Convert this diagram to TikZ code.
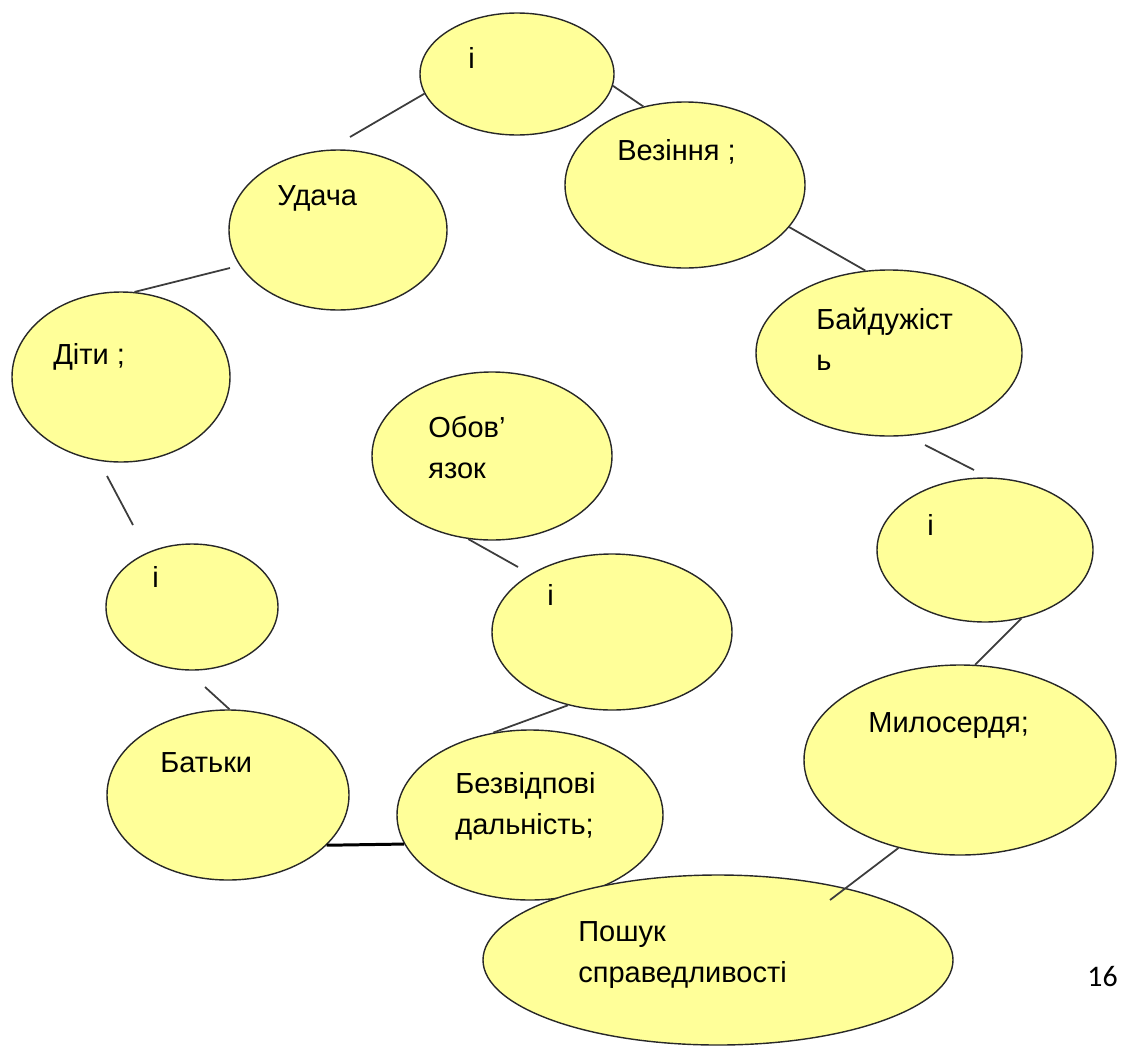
\documentclass[tikz,border=0pt]{standalone}
\usepackage{fontspec}
\setmainfont{Liberation Sans}
\newfontfamily\pagefont{Carlito}
\usepackage{tikz}
\usetikzlibrary{shapes.geometric}
\definecolor{bubblefill}{RGB}{255,255,153}
\definecolor{bubbleline}{RGB}{40,40,40}
\definecolor{linkgray}{RGB}{60,60,60}
\tikzstyle{bubble} = [ellipse,draw=bubbleline,fill=bubblefill,line width=0.8pt,inner sep=0pt]
\tikzstyle{word} = [anchor=base west,inner sep=0pt,align=left,font=\fontsize{16.5}{23}\selectfont]
\tikzstyle{link} = [draw=linkgray,line width=1pt]

\begin{document}
\begin{tikzpicture}[x=0.02cm,y=-0.02cm]
	\def \px {0.02cm}
	\useasboundingbox (0,0) rectangle (1125,1055);
	% bubbles
	\node (top) at (517,74) [bubble,minimum width=194*\px,minimum height=122*\px] {};
	\node (vez) at (685,185) [bubble,minimum width=240*\px,minimum height=166*\px] {};
	\node (uda) at (338,230) [bubble,minimum width=218*\px,minimum height=160*\px] {};
	\node (dit) at (121,377) [bubble,minimum width=218*\px,minimum height=170*\px] {};
	\node (bay) at (889,353) [bubble,minimum width=266*\px,minimum height=166*\px] {};
	\node (obo) at (492,456) [bubble,minimum width=240*\px,minimum height=168*\px] {};
	\node (iR) at (985,550) [bubble,minimum width=216*\px,minimum height=144*\px] {};
	\node (iL) at (192,607) [bubble,minimum width=172*\px,minimum height=126*\px] {};
	\node (iM) at (612,632) [bubble,minimum width=240*\px,minimum height=156*\px] {};
	\node (bat) at (228,795) [bubble,minimum width=242*\px,minimum height=170*\px] {};
	\node (bez) at (530,815) [bubble,minimum width=266*\px,minimum height=170*\px] {};
	\node (mil) at (960,760) [bubble,minimum width=312*\px,minimum height=190*\px] {};
	\node (pos) at (718,960) [bubble,minimum width=470*\px,minimum height=170*\px] {};
	% texts (multi-line ones sit on their last line)
	\node (t-top) at (468,68) [word] {і};
	\node (t-vez) at (617,160) [word] {Везіння ;};
	\node (t-uda) at (277,205) [word] {Удача};
	\node (t-dit) at (53,364) [word] {Діти ;};
	\node (t-bay) at (816,370) [word] {Байдужіст\\ь};
	\node (t-obo) at (428,478) [word] {Обов’\\язок};
	\node (t-iR) at (927,535) [word] {і};
	\node (t-iL) at (152,587) [word] {і};
	\node (t-iM) at (547,605) [word] {і};
	\node (t-bat) at (160,772) [word] {Батьки};
	\node (t-bez) at (455,834) [word] {Безвідпові\\дальність;};
	\node (t-mil) at (868,732) [word] {Милосердя;};
	\node (t-pos) at (578,982) [word] {Пошук\\справедливості};
	\node (page) at (1087,986) [anchor=base west,inner sep=0pt,font=\pagefont\fontsize{17}{20}\selectfont] {16};
	% loose ends
	\coordinate (udaTop) at (350,137);
	\coordinate (ditUda) at (230,268);
	\coordinate (ditLow) at (107,476);
	\coordinate (iLUp) at (133,525);
	\coordinate (bayLow) at (925,445);
	\coordinate (iRUp) at (974,470);
	\coordinate (iMUp) at (518,567);
	\coordinate (iLLow) at (205,687);
	\coordinate (posUp) at (830,900);
	% connectors
	\draw [link] (udaTop) -- (top.192);
	\draw [link] (top.353) -- (vez.118);
	\draw [link] (dit.81) -- (ditUda);
	\draw [link] (vez.338) -- (bay.106);
	\draw [link] (ditLow) -- (iLUp);
	\draw [link] (bayLow) -- (iRUp);
	\draw [link] (obo.254) -- (iMUp);
	\draw [link] (iLLow) -- (bat.89);
	\draw [link] (iR.298) -- (mil.81);
	\draw [link] (iM.239) -- (bez.114);
	\draw [line width=1.7pt] (bat.333) -- (bez.193);
	\draw [link] (mil.235) -- (posUp);
\end{tikzpicture}
\end{document}
